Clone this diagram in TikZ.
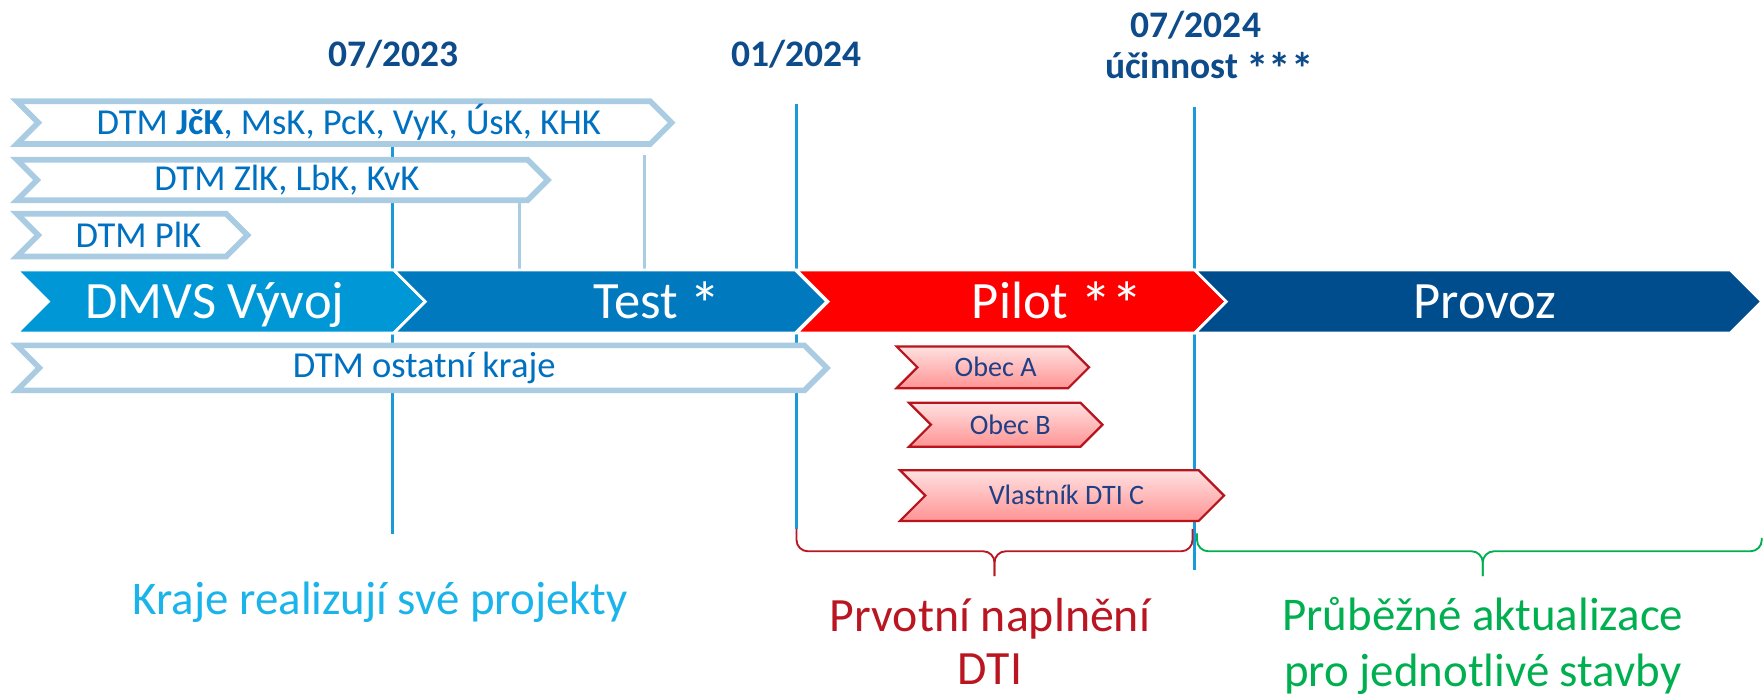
\documentclass[tikz,border=0pt]{standalone}
\usepackage{fontspec}
\setmainfont{Carlito}
\usepackage{tikz}
\definecolor{vyvojblue}{HTML}{0097D7}
\definecolor{testblue}{HTML}{0079BF}
\definecolor{provozblue}{HTML}{004D8E}
\definecolor{pilotred}{HTML}{FF0000}
\definecolor{rowedge}{HTML}{A9CCE3}
\definecolor{rowtext}{HTML}{0070C0}
\definecolor{datetext}{HTML}{0D4B8A}
\definecolor{lineblue}{HTML}{1A9AD7}
\definecolor{obecedge}{HTML}{B8141E}
\definecolor{obectext}{HTML}{1F3F87}
\definecolor{krajetext}{HTML}{1AB4EA}
\definecolor{dtired}{HTML}{BA1622}
\definecolor{prubgreen}{HTML}{00B050}

% chevron: [style] left, tip, top, bottom
\newcommand{\chevron}[5][]{%
  \path[#1] (#2,#4) -- ({#3-(#5-#4)/2},#4) -- (#3,{(#4+#5)/2})
    -- ({#3-(#5-#4)/2},#5) -- (#2,#5) -- ({#2+(#5-#4)/2},{(#4+#5)/2}) -- cycle;}
\newcommand{\hvezda}{\raisebox{-0.15em}{\scalebox{1.2}{*}}}

\begin{document}
\begin{tikzpicture}[x=0.6pt,y=-0.6pt,
    rowchev/.style={draw=rowedge, fill=white, line width=3pt},
    obecchev/.style={draw=obecedge, top color=red!12, bottom color=red!42, line width=1.2pt},
    barseg/.style={draw=white, line width=1.5pt},
    barlbl/.style={text=white, inner sep=0pt, font=\fontsize{28}{32}\selectfont},
    rowlbl/.style={text=rowtext, inner sep=0pt, font=\fontsize{19.5}{23}\selectfont},
    obeclbl/.style={text=obectext, inner sep=0pt, font=\fontsize{15}{18}\selectfont},
    datelbl/.style={text=datetext, inner sep=0pt, font=\fontsize{20}{24}\selectfont\bfseries},
    mark line/.style={draw=lineblue, line width=1.8pt},
    faint line/.style={draw=rowedge, line width=1.8pt}]
  \useasboundingbox (0,0) rectangle (1568,619);

  % milestones
  \draw[mark line] (349,130) -- (349,475);
  \draw[mark line] (708,92) -- (708,470);
  \draw[mark line] (1062,95) -- (1062,507);
  \draw[faint line] (462,178) -- (462,240);
  \draw[faint line] (573,138) -- (573,240);

  \node[datelbl] (d2023) at (350,48) {07/2023};
  \node[datelbl] (d2024a) at (708,48) {01/2024};
  \node[datelbl] (d2024b) at (1063,22) {07/2024};
  \node[datelbl, anchor=base] (ucinnost) at (1075,70) {účinnost \hvezda\hvezda\hvezda};

  % regional projects
  \chevron[rowchev]{15}{597}{90}{128}
  \chevron[rowchev]{15}{487}{142}{178}
  \chevron[rowchev]{15}{220}{190}{228}
  \chevron[rowchev]{15}{735}{307}{347}
  \node[rowlbl] (row1) at (310,109) {DTM \textbf{JčK}, MsK, PcK, VyK, ÚsK, KHK};
  \node[rowlbl] (row2) at (255,160) {DTM ZlK, LbK, KvK};
  \node[rowlbl] (row3) at (123,209) {DTM PlK};
  \node[rowlbl] (ostatni) at (377,327) {DTM ostatní kraje};

  % main bar
  \chevron[barseg, fill=vyvojblue]{15}{378}{240}{296}
  \chevron[barseg, fill=testblue]{350}{735}{240}{296}
  \chevron[barseg, fill=pilotred]{708}{1090}{240}{296}
  \chevron[barseg, fill=provozblue]{1062}{1566}{240}{296}
  \node[barlbl, anchor=base] (vyvoj) at (191,283) {DMVS Vývoj};
  \node[barlbl, anchor=base] (test) at (584,283) {Test \hvezda};
  \node[barlbl, anchor=base] (pilot) at (940,283) {Pilot \hvezda\hvezda};
  \node[barlbl, anchor=base] (provoz) at (1320,283) {Provoz};

  % pilot owners
  \chevron[obecchev]{797}{968}{308}{345}
  \chevron[obecchev]{808}{980}{358}{397}
  \chevron[obecchev]{800}{1088}{418}{463}
  \node[obeclbl] (obeca) at (885,326) {Obec A};
  \node[obeclbl] (obecb) at (898,378) {Obec B};
  \node[obeclbl] (vlastnik) at (948,440) {Vlastník DTI C};

  % braces
  \draw[dtired, line width=1pt, rounded corners=6] (708,470) |- (884,490) -- (884,512);
  \draw[dtired, line width=1pt, rounded corners=6] (884,512) -- (884,490) -| (1060,470);
  \draw[prubgreen, line width=1pt, rounded corners=6] (1064,474) |- (1318,490) -- (1318,512);
  \draw[prubgreen, line width=1pt, rounded corners=6] (1318,512) -- (1318,490) -| (1566,478);

  \node[text=krajetext, inner sep=0pt, font=\fontsize{25}{29}\selectfont] (kraje) at (338,535) {Kraje realizují své projekty};
  \node[text=dtired, inner sep=0pt, align=center, font=\fontsize{25.5}{28}\selectfont] (naplneni) at (880,570) {Prvotní naplnění\\DTI};
  \node[text=prubgreen, inner sep=0pt, align=center, font=\fontsize{25}{30}\selectfont] (aktualizace) at (1318,574) {Průběžné aktualizace\\pro jednotlivé stavby};
\end{tikzpicture}
\end{document}
